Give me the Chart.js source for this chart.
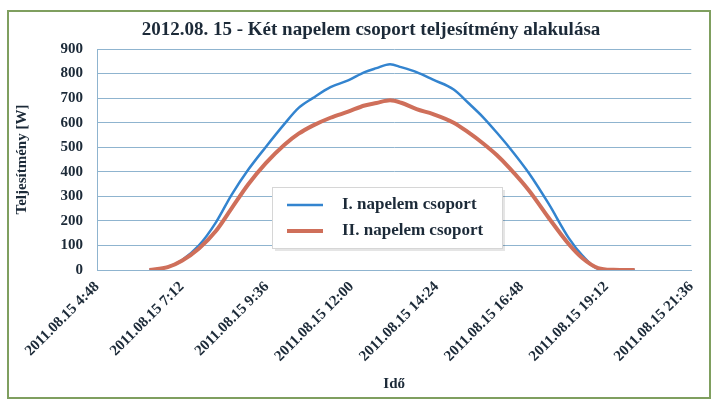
<!DOCTYPE html>
<html><head><meta charset="utf-8">
<script src="https://cdn.jsdelivr.net/npm/chart.js@4/dist/chart.umd.min.js"></script>
<style>html,body{margin:0;padding:0;background:#fff}#wrap{width:712px;height:401px;position:relative}</style>
</head><body><div id="wrap"><canvas id="c" width="712" height="401"></canvas></div>
<script>
const titleText = "2012.08. 15 - Két napelem csoport teljesítmény alakulása";
const yTitle = "Teljesítmény [W]";
const xTitle = "Idő";
const datePrefix = "2011.08.15";
const xTickLabels = ["4:48","7:12","9:36","12:00","14:24","16:48","19:12","21:36"];
const yTicks = [0,100,200,300,400,500,600,700,800,900];
const seriesNames = ["I. napelem csoport","II. napelem csoport"];
const times = ["6:17","6:48","7:12","7:41","8:10","8:36","9:05","9:34","10:06","10:30","10:54","11:24","11:54","12:22","12:42","13:05","13:24","13:50","14:18","14:53","15:18","15:43","16:06","16:27","17:01","17:34","18:08","18:31","18:58","19:24","20:00"];
const group1 = [0,12,40,100,195,305,410,500,595,660,700,745,772,806,822,838,826,806,775,735,680,622,560,500,393,270,131,60,5,0,0];
const group2 = [0,12,38,88,160,250,350,434,510,555,588,620,645,670,680,691,681,655,635,600,560,515,468,417,323,213,106,49,8,1,0];

const BLUE = '#3384cf', RED = '#cf6f5a', GRID = '#8fb4cf', TXT = '#1c2a38';
const FONT = 'Liberation Serif';
const toH = s => { const [h, m] = s.split(':').map(Number); return h + m / 60; };

const framePlugin = {
  id: 'frame',
  beforeDraw(chart) {
    const c = chart.ctx; c.save();
    c.fillStyle = '#fff'; c.fillRect(0, 0, chart.width, chart.height);
    c.strokeStyle = '#7f9f5f'; c.lineWidth = 2;
    c.strokeRect(8, 11, 702, 387);
    c.restore();
  },
  afterDraw(chart) {
    const c = chart.ctx; c.save();
    c.font = 'bold 19px "' + FONT + '"'; c.fillStyle = TXT;
    c.textAlign = 'center'; c.textBaseline = 'middle';
    c.fillText(titleText, 371, 30);
    c.restore();
  }
};
const legendPlugin = {
  id: 'boxLegend',
  afterDatasetsDraw(chart) {
    const c = chart.ctx; c.save();
    const x = 272, y = 187, w = 230, h = 61;
    c.fillStyle = 'rgba(0,0,0,0.10)'; c.fillRect(x + 3, y + 3, w, h);
    c.fillStyle = '#fff'; c.fillRect(x, y, w, h);
    c.strokeStyle = '#d6d6d6'; c.lineWidth = 1; c.strokeRect(x + 0.5, y + 0.5, w, h);
    c.font = 'bold 17px "' + FONT + '"'; c.textBaseline = 'middle'; c.textAlign = 'left';
    chart.data.datasets.forEach((ds, i) => {
      const ly = y + 18 + i * 26;
      c.strokeStyle = ds.borderColor; c.lineWidth = ds.borderWidth;
      c.beginPath(); c.moveTo(x + 15, ly); c.lineTo(x + 51, ly); c.stroke();
      c.fillStyle = TXT; c.fillText(ds.label, x + 70, ly);
    });
    c.restore();
  }
};

new Chart(document.getElementById('c'), {
  type: 'line',
  data: {
    datasets: [
      { label: seriesNames[0], data: times.map((t, i) => ({ x: toH(t), y: group1[i] })),
        borderColor: BLUE, borderWidth: 2.5, pointRadius: 0, cubicInterpolationMode: 'monotone', order: 1 },
      { label: seriesNames[1], data: times.map((t, i) => ({ x: toH(t), y: group2[i] })),
        borderColor: RED, borderWidth: 4, pointRadius: 0, cubicInterpolationMode: 'monotone', order: 0 }
    ]
  },
  options: {
    responsive: false, animation: false,
    layout: { padding: { top: 49, right: 15, bottom: 5, left: 0 } },
    plugins: { legend: { display: false }, title: { display: false }, tooltip: { enabled: false } },
    scales: {
      x: {
        type: 'linear', min: toH(xTickLabels[0]), max: toH(xTickLabels[xTickLabels.length - 1]),
        afterBuildTicks: s => { s.ticks = xTickLabels.map(t => ({ value: toH(t) })); },
        ticks: { autoSkip: false, maxRotation: 45, minRotation: 45, padding: 8,
          font: { family: FONT, size: 15, weight: 'bold' }, color: TXT,
          callback: (v, i) => datePrefix + ' ' + xTickLabels[i] },
        grid: { display: false, drawTicks: false },
        border: { display: true, color: GRID },
        title: { display: true, text: xTitle, color: TXT, font: { family: FONT, size: 15, weight: 'bold' }, padding: { top: 0, bottom: 3 } },
        afterFit: s => { s.height = 126; }
      },
      y: {
        min: 0, max: 900,
        afterBuildTicks: s => { s.ticks = yTicks.map(v => ({ value: v })); },
        ticks: { padding: 14, font: { family: FONT, size: 15, weight: 'bold' }, color: TXT },
        grid: { color: GRID, drawTicks: false },
        border: { display: true, color: GRID },
        title: { display: true, text: yTitle, color: TXT, font: { family: FONT, size: 15, weight: 'bold' }, padding: { top: 13, bottom: 0 } },
        afterFit: s => { s.width = 97; }
      }
    }
  },
  plugins: [framePlugin, legendPlugin]
});
</script></body></html>
